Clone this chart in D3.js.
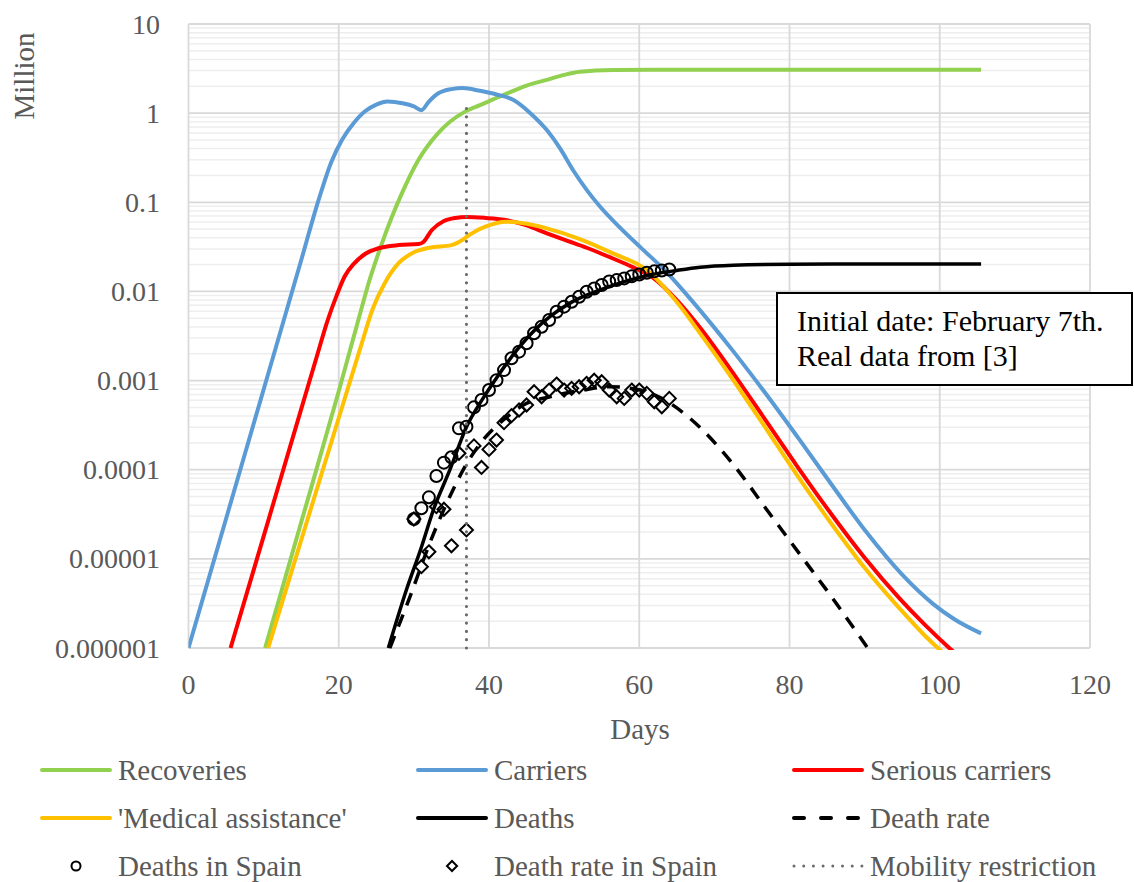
<!DOCTYPE html>
<html>
<head>
<meta charset="utf-8">
<script src="https://cdn.jsdelivr.net/npm/d3@7"></script>
<style>
	body { margin: 0; background: #fff; }
</style>
</head>
<body>
<svg id="chart" width="1134" height="882" font-family="'Liberation Serif', 'DejaVu Serif', 'Times New Roman', serif"></svg>
<script>
// model curves, [day, million]
const recoveries = [[10.2, 1e-6], [15, 2.57e-5], [20, 7.59e-4], [23, 6.31e-3], [24, 0.0126], [25.5, 0.0302], [27, 0.0661], [28.4, 0.126], [30.6, 0.298], [33.2, 0.594], [36.8, 1.04], [38.8, 1.23], [42.1, 1.62], [45, 2.04], [47.7, 2.36], [50, 2.69], [52.1, 2.92], [56.5, 3.05], [65, 3.07], [80, 3.07], [105.5, 3.07]];
const carriers = [[0, 1e-6], [5, 2.82e-5], [10, 7.94e-4], [15, 0.0224], [17.3, 0.105], [19, 0.282], [20.5, 0.513], [22, 0.776], [23.5, 1.05], [25, 1.245], [26.5, 1.35], [28.5, 1.29], [30, 1.19], [31, 1.08], [32, 1.35], [33.2, 1.66], [35, 1.86], [36.5, 1.91], [38.8, 1.78], [41, 1.62], [43.2, 1.41], [45.5, 1.0], [47.7, 0.646], [49.5, 0.398], [51.2, 0.229], [53, 0.138], [54.8, 0.0891], [57.5, 0.0513], [60.1, 0.0316], [63.6, 0.0166], [67, 7.89e-3], [72.5, 2.14e-3], [77, 6.84e-4], [81.4, 2.13e-4], [86, 6.11e-5], [90.2, 2.01e-5], [95, 6.65e-6], [99.1, 3.13e-6], [102, 2.09e-6], [105.5, 1.46e-6]];
const seriousCarriers = [[5.6, 1e-6], [10, 1.79e-5], [15, 4.78e-4], [17, 1.77e-3], [18.5, 4.68e-3], [19.7, 8.91e-3], [20.8, 0.0148], [22, 0.0204], [23.5, 0.0263], [25.3, 0.0305], [28, 0.0331], [30.6, 0.034], [31.2, 0.0355], [32.4, 0.0489], [34, 0.0617], [35.5, 0.0668], [37, 0.0684], [39.5, 0.0668], [42, 0.0638], [45, 0.055], [47.7, 0.0449], [50, 0.038], [53, 0.0309], [56.5, 0.0234], [59.2, 0.0186], [61.9, 0.0141], [65, 7.98e-3], [68.1, 3.91e-3], [72, 1.39e-3], [76.9, 3.51e-4], [81, 1.10e-4], [85.8, 2.99e-5], [90, 1.03e-5], [94.7, 3.56e-6], [98, 1.83e-6], [101.3, 9.95e-7], [105.5, 5.0e-7]];
const medicalAssistance = [[10.6, 1e-6], [15, 1.62e-5], [20, 3.80e-4], [23, 2.51e-3], [24.5, 6.31e-3], [26.1, 0.0123], [28, 0.0209], [29.7, 0.0267], [32, 0.0309], [35, 0.0331], [36.5, 0.038], [37.5, 0.0437], [39.5, 0.0532], [42.3, 0.0605], [45, 0.0575], [47.7, 0.051], [52, 0.0389], [56.5, 0.0267], [61, 0.0174], [65, 7.59e-3], [68.1, 3.39e-3], [72, 1.17e-3], [76.9, 2.88e-4], [81, 8.71e-5], [85.8, 2.34e-5], [90, 7.94e-6], [94.7, 2.75e-6], [98, 1.38e-6], [100.4, 8.9e-7], [105.5, 3.98e-7]];
const deaths = [[26.6, 1e-6], [29, 4.47e-6], [31, 1.35e-5], [32.6, 3.55e-5], [34.8, 1.0e-4], [37, 3.02e-4], [39.2, 6.31e-4], [41, 1.07e-3], [43.7, 2.19e-3], [46, 3.63e-3], [48.1, 5.2e-3], [51, 7.59e-3], [54.8, 0.0104], [58, 0.0129], [61.4, 0.0153], [65, 0.0172], [68.1, 0.0187], [72.5, 0.0197], [80, 0.0202], [90, 0.0203], [105.5, 0.0203]];
const deathRate = [[26.8, 1e-6], [29.5, 3.80e-6], [32.1, 1.49e-5], [35.2, 5.92e-5], [36.8, 1.08e-4], [39.2, 2.15e-4], [41.9, 3.61e-4], [44.6, 5.32e-4], [48.1, 6.59e-4], [52.5, 7.83e-4], [56.1, 8.53e-4], [60.1, 7.83e-4], [63, 6.31e-4], [66.7, 3.80e-4], [72.5, 1.15e-4], [76.9, 3.63e-5], [81.4, 1.12e-5], [85.8, 3.55e-6], [90.4, 1e-6]];

// real data, days 30..64
const spainDays = d3.range(30, 65);
const deathsSpain = [2.80e-5, 3.69e-5, 4.90e-5, 8.49e-5, 1.20e-4, 1.38e-4, 2.91e-4, 3.03e-4, 5.01e-4, 6.05e-4, 7.83e-4, 1.01e-3, 1.31e-3, 1.78e-3, 2.11e-3, 2.62e-3, 3.39e-3, 4.02e-3, 4.78e-3, 5.92e-3, 6.75e-3, 7.67e-3, 8.71e-3, 9.93e-3, 0.0108, 0.0118, 0.0129, 0.0134, 0.0140, 0.0148, 0.0155, 0.0162, 0.0168, 0.0172, 0.0176];
const deathRateSpain = [2.80e-5, 8.17e-6, 1.20e-5, 3.85e-5, 3.60e-5, 1.40e-5, 1.53e-4, 2.11e-5, 1.85e-4, 1.06e-4, 1.69e-4, 2.15e-4, 3.37e-4, 4.04e-4, 4.68e-4, 5.32e-4, 7.50e-4, 6.59e-4, 7.83e-4, 9.14e-4, 7.83e-4, 8.18e-4, 8.53e-4, 9.31e-4, 1.01e-3, 9.70e-4, 7.83e-4, 6.59e-4, 6.31e-4, 7.83e-4, 7.83e-4, 7.19e-4, 5.79e-4, 5.09e-4, 6.31e-4];

const mobilityDay = 37;
const mobilityRange = [1e-6, 1.2];

const xTicks = [0, 20, 40, 60, 80, 100, 120];
const yTicks = [1e-6, 1e-5, 1e-4, 1e-3, 1e-2, 0.1, 1, 10];
const yTickLabels = ['0.000001', '0.00001', '0.0001', '0.001', '0.01', '0.1', '1', '10'];

const legendItems = [
	{ 'name': 'Recoveries', 'type': 'line', 'color': '#92d050' },
	{ 'name': 'Carriers', 'type': 'line', 'color': '#5b9bd5' },
	{ 'name': 'Serious carriers', 'type': 'line', 'color': '#ff0000' },
	{ 'name': "'Medical assistance'", 'type': 'line', 'color': '#ffc000' },
	{ 'name': 'Deaths', 'type': 'line', 'color': '#000' },
	{ 'name': 'Death rate', 'type': 'dash', 'color': '#000' },
	{ 'name': 'Deaths in Spain', 'type': 'circle', 'color': '#000' },
	{ 'name': 'Death rate in Spain', 'type': 'diamond', 'color': '#000' },
	{ 'name': 'Mobility restriction', 'type': 'dot', 'color': '#6b6b6b' }
];

let svg = d3.select('svg#chart');
let plot = { left: 188.5, right: 1090, top: 24, bottom: 648 };
let x = d3.scaleLinear([0, 120], [plot.left, plot.right]);
let y = d3.scaleLog([1e-6, 10], [plot.bottom, plot.top]);
let textGray = '#595959';

// grid
let grid = svg.append('g');
let minor = [];
yTicks.slice(0, -1).forEach(t => { for (let k = 2; k < 10; k++) minor.push(t * k); });
grid.selectAll('line.minor').data(minor).join('line')
	.attr('x1', plot.left).attr('x2', plot.right)
	.attr('y1', d => y(d)).attr('y2', d => y(d))
	.attr('stroke', '#eeeeee').attr('stroke-width', 1.5);
grid.selectAll('line.hmajor').data(yTicks).join('line')
	.attr('x1', plot.left).attr('x2', plot.right)
	.attr('y1', d => y(d)).attr('y2', d => y(d))
	.attr('stroke', '#d9d9d9').attr('stroke-width', 1.8);
grid.selectAll('line.vmajor').data(xTicks).join('line')
	.attr('x1', d => x(d)).attr('x2', d => x(d))
	.attr('y1', plot.top).attr('y2', plot.bottom)
	.attr('stroke', '#d9d9d9').attr('stroke-width', 1.8);

// tick labels
svg.append('g').selectAll('text').data(yTicks).join('text')
	.attr('x', 160).attr('y', d => y(d)).attr('dy', '0.34em')
	.attr('text-anchor', 'end').attr('font-size', 28).attr('fill', textGray)
	.text((d, i) => yTickLabels[i]);
svg.append('g').selectAll('text').data(xTicks).join('text')
	.attr('x', d => x(d)).attr('y', 694)
	.attr('text-anchor', 'middle').attr('font-size', 28).attr('fill', textGray)
	.text(d => d);

svg.append('text').attr('x', 640).attr('y', 739).attr('text-anchor', 'middle')
	.attr('font-size', 29).attr('fill', textGray).text('Days');
svg.append('text').attr('transform', 'translate(34,76) rotate(-90)').attr('text-anchor', 'middle')
	.attr('font-size', 29).attr('fill', textGray).text('Million');

// series
svg.append('clipPath').attr('id', 'clip').append('rect')
	.attr('x', plot.left).attr('y', plot.top - 4)
	.attr('width', plot.right - plot.left).attr('height', plot.bottom - plot.top + 6);
let lines = svg.append('g').attr('clip-path', 'url(#clip)');
let line = d3.line().x(d => x(d[0])).y(d => y(d[1])).curve(d3.curveMonotoneX);

let curves = [
	{ 'data': recoveries, 'color': '#92d050', 'w': 4 },
	{ 'data': carriers, 'color': '#5b9bd5', 'w': 4 },
	{ 'data': seriousCarriers, 'color': '#ff0000', 'w': 4 },
	{ 'data': medicalAssistance, 'color': '#ffc000', 'w': 4 },
	{ 'data': deaths, 'color': '#000', 'w': 3.5 },
	{ 'data': deathRate, 'color': '#000', 'w': 3.5, 'dash': '13,10' }
];
lines.selectAll('path.curve').data(curves).join('path')
	.attr('class', 'curve')
	.attr('fill', 'none')
	.attr('stroke', d => d.color)
	.attr('stroke-width', d => d.w)
	.attr('stroke-dasharray', d => d.dash || null)
	.attr('stroke-linejoin', 'round')
	.attr('d', d => line(d.data));

let markers = svg.append('g');
markers.selectAll('circle').data(deathsSpain).join('circle')
	.attr('cx', (d, i) => x(spainDays[i])).attr('cy', d => y(d)).attr('r', 6)
	.attr('fill', 'none').attr('stroke', '#000').attr('stroke-width', 2);
let diamond = s => `M0,${-s}L${s},0L0,${s}L${-s},0Z`;
markers.selectAll('path').data(deathRateSpain).join('path')
	.attr('transform', (d, i) => `translate(${x(spainDays[i])},${y(d)})`)
	.attr('d', diamond(6.5))
	.attr('fill', 'none').attr('stroke', '#000').attr('stroke-width', 2);

svg.append('line')
	.attr('x1', x(mobilityDay)).attr('x2', x(mobilityDay))
	.attr('y1', y(mobilityRange[0])).attr('y2', y(mobilityRange[1]))
	.attr('stroke', '#6b6b6b').attr('stroke-width', 3.2)
	.attr('stroke-linecap', 'round').attr('stroke-dasharray', '0,8.3');

// note box
let note = svg.append('g');
note.append('rect').attr('x', 777).attr('y', 293).attr('width', 355).attr('height', 92)
	.attr('fill', '#fff').attr('stroke', '#000').attr('stroke-width', 2);
note.append('text').attr('x', 797).attr('y', 331).attr('font-size', 30).attr('fill', '#000')
	.text('Initial date: February 7th.');
note.append('text').attr('x', 797).attr('y', 366).attr('font-size', 30).attr('fill', '#000')
	.text('Real data from [3]');

// legend
let legend = svg.append('g');
let item = legend.selectAll('g').data(legendItems).join('g')
	.attr('transform', (d, i) => `translate(${42 + (i % 3) * 376},${770 + Math.floor(i / 3) * 48})`);
item.filter(d => d.type == 'line' || d.type == 'dash' || d.type == 'dot').append('line')
	.attr('x1', 0).attr('x2', 68).attr('y1', 0).attr('y2', 0)
	.attr('stroke', d => d.color)
	.attr('stroke-width', d => d.type == 'dot' ? 3 : 4)
	.attr('stroke-linecap', 'round')
	.attr('stroke-dasharray', d => d.type == 'dash' ? '10,17' : d.type == 'dot' ? '0,9.7' : null);
item.filter(d => d.type == 'circle').append('circle')
	.attr('cx', 34).attr('cy', 0).attr('r', 4.5)
	.attr('fill', 'none').attr('stroke', '#000').attr('stroke-width', 2);
item.filter(d => d.type == 'diamond').append('path')
	.attr('transform', 'translate(34,0)').attr('d', diamond(5))
	.attr('fill', 'none').attr('stroke', '#000').attr('stroke-width', 2);
item.append('text').attr('x', 76).attr('y', 0).attr('dy', '0.33em')
	.attr('font-size', 29).attr('fill', textGray).text(d => d.name);
</script>
</body>
</html>
